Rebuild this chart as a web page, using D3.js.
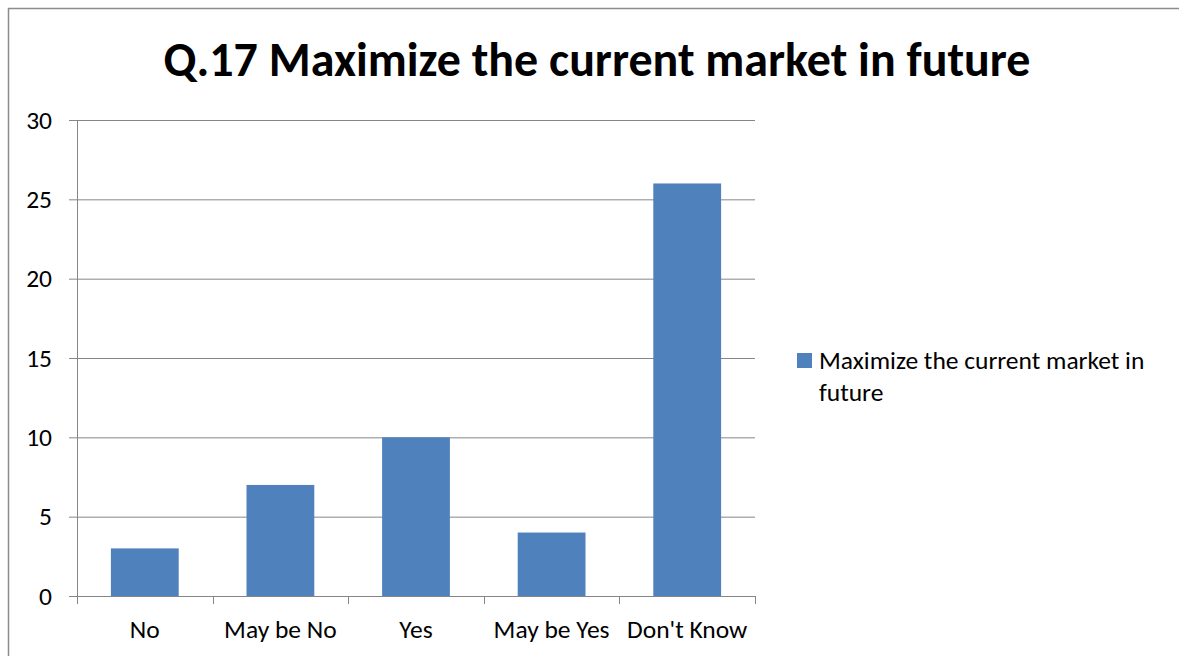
<!DOCTYPE html>
<html>
<head>
<meta charset="utf-8">
<script src="https://cdn.jsdelivr.net/npm/d3@7"></script>
<style>
  body { margin: 0; background: #fff; }
  svg { display: block; font-family: Carlito, Calibri, Lato, sans-serif; }
</style>
</head>
<body>
<div id="chart"></div>
<script>
const categories = ["No", "May be No", "Yes", "May be Yes", "Don't Know"];
const values = [3, 7, 10, 4, 26];
const yTicks = [0, 5, 10, 15, 20, 25, 30];
const seriesName = "Maximize the current market in future";
const titleText = "Q.17 Maximize the current market in future";

const W = 1179, H = 656;
const labelSize = 25.5;
var margin = { top: 120, left: 77 },
  plotW = 755 - 77,
  plotH = 596 - 120;

const svg = d3.select("#chart").append("svg")
  .attr("width", W)
  .attr("height", H);

// outer chart border (runs off the right / bottom edge)
svg.append("rect")
  .attr("x", 8.5).attr("y", 8.5)
  .attr("width", W + 20).attr("height", H + 20)
  .attr("fill", "none")
  .attr("stroke", "#8c8c8c")
  .attr("stroke-width", 1.5);

// title, sized to span the same width as the reference
let title = svg.append("text")
  .attr("x", 597).attr("y", 76)
  .attr("text-anchor", "middle")
  .attr("font-weight", "bold")
  .attr("font-size", 46)
  .attr("fill", "#000")
  .text(titleText);
let tw = title.node().getComputedTextLength();
title.attr("font-size", 46 * 867 / tw);

const g = svg.append("g")
  .attr("transform", "translate(" + margin.left + "," + margin.top + ")");

const x = d3.scaleBand()
  .domain(categories)
  .range([0, plotW])
  .paddingInner(0.5)
  .paddingOuter(0.25);

const y = d3.scaleLinear()
  .domain([0, 30])
  .range([plotH, 0]);

// gridlines
g.append("g")
  .selectAll("line")
  .data(yTicks.filter(d => d > 0))
  .join("line")
  .attr("x1", 0).attr("x2", plotW)
  .attr("y1", d => y(d) + 0.5).attr("y2", d => y(d) + 0.5)
  .attr("stroke", "#868686")
  .attr("stroke-width", 1);

// bars
g.append("g")
  .selectAll("rect")
  .data(values)
  .join("rect")
  .attr("x", (d, i) => x(categories[i]))
  .attr("y", d => y(d))
  .attr("width", x.bandwidth())
  .attr("height", d => plotH - y(d))
  .attr("fill", "#4f81bd");

// y axis
const yAxis = g.append("g")
  .call(d3.axisLeft(y).tickValues(yTicks).tickSize(8).tickPadding(17));
yAxis.select(".domain").attr("stroke", "#868686").attr("d", "M0.5,0V" + plotH);
yAxis.selectAll(".tick line").attr("stroke", "#868686");
yAxis.selectAll(".tick text")
  .attr("font-size", labelSize)
  .attr("font-family", "Carlito, Calibri, Lato, sans-serif")
  .attr("fill", "#000");

// x axis with category boundary ticks
const xg = g.append("g").attr("transform", "translate(0," + plotH + ")");
xg.append("line")
  .attr("x1", 0).attr("x2", plotW)
  .attr("y1", 0.5).attr("y2", 0.5)
  .attr("stroke", "#868686");
const step = plotW / categories.length;
xg.selectAll(".sep")
  .data(d3.range(categories.length + 1))
  .join("line")
  .attr("class", "sep")
  .attr("x1", d => Math.round(d * step) + 0.5).attr("x2", d => Math.round(d * step) + 0.5)
  .attr("y1", 0).attr("y2", 8)
  .attr("stroke", "#868686");
xg.selectAll(".lbl")
  .data(categories)
  .join("text")
  .attr("class", "lbl")
  .attr("x", d => x(d) + x.bandwidth() / 2)
  .attr("y", 42)
  .attr("text-anchor", "middle")
  .attr("font-size", labelSize)
  .attr("fill", "#000")
  .text(d => d);

// legend
const lg = svg.append("g").attr("transform", "translate(797,353)");
lg.append("rect")
  .attr("width", 15).attr("height", 15)
  .attr("fill", "#4f81bd");
const lt = lg.append("text")
  .attr("x", 22).attr("y", 16)
  .attr("font-size", labelSize)
  .attr("fill", "#000");
lt.append("tspan").attr("x", 22).text("Maximize the current market in");
lt.append("tspan").attr("x", 22).attr("dy", 32).text("future");
</script>
</body>
</html>
